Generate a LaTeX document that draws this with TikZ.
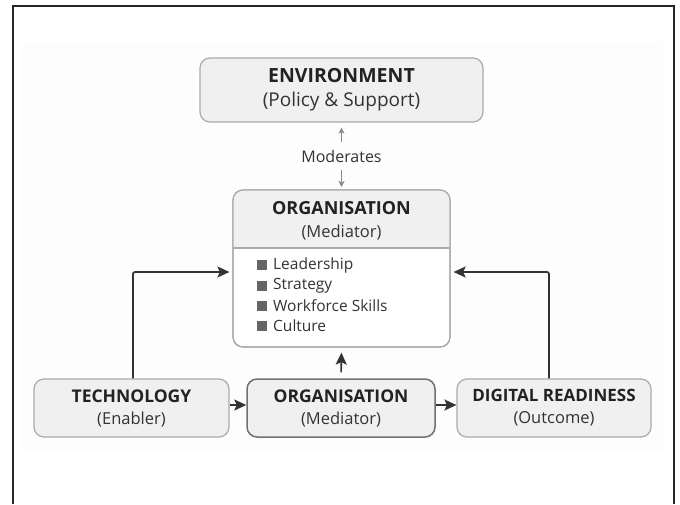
\documentclass[tikz,border=0pt]{standalone}
\usepackage{fontspec}
\setmainfont{Open Sans}
\usetikzlibrary{arrows.meta}
\definecolor{boxfill}{HTML}{F0F0F0}
\definecolor{boxline}{HTML}{ABABAB}
\definecolor{darkline}{HTML}{707070}
\definecolor{inkdark}{HTML}{222222}
\definecolor{inksub}{HTML}{333333}
\definecolor{arrowdark}{HTML}{333333}
\definecolor{arrowgrey}{HTML}{8A8A8A}
\definecolor{bulletgrey}{HTML}{666666}
\definecolor{panel}{HTML}{FDFDFD}
\tikzset{
  card/.style={draw=boxline, line width=1.2pt, fill=boxfill, rounded corners=10pt,
    inner sep=0pt, align=center, text=inkdark},
  linegap/.style={font=\fontsize{16}{#1}\selectfont},
  flowarrow/.style={draw=arrowdark, line width=1.7pt,
    -{Stealth[length=12pt,width=11pt,inset=2.5pt]}},
  softarrow/.style={draw=arrowgrey, line width=1.2pt,
    -{Stealth[length=6pt,width=6pt,inset=1.5pt]}},
  bulletsq/.style={fill=bulletgrey, minimum size=9.5pt, inner sep=0pt},
  item/.style={anchor=west, inner sep=0pt, text=inksub,
    font=\fontsize{15.5}{18}\selectfont},
}
% two-line card text: bold title, bracketed role below
\newcommand{\cardtext}[4]{{\fontsize{#1}{#1}\selectfont\bfseries #2}\\{\fontsize{#3}{#3}\selectfont\color{inksub}#4}}
\begin{document}
\begin{tikzpicture}[x=1pt,y=-1pt]
\useasboundingbox (0,0) rectangle (680,504);
% faint backdrop panel and the frame
\fill[panel] (22,42) rectangle (663,452);
\draw[black!85, line width=1.4pt] (13,504) -- (13,6) -- (674,6) -- (674,504);

% environment
\node[card, linegap=24pt, minimum width=283pt, minimum height=64pt] (env) at (341.5,90)
  {\cardtext{19.5}{ENVIRONMENT}{19}{(Policy \& Support)}};

% moderating link
\node[inner sep=0pt, minimum height=28pt, text=inksub,
  font=\fontsize{16}{18}\selectfont] (mod) at (341.5,156) {Moderates};
\draw[softarrow, shorten >=5pt] (mod.north) -- (env.south);
\draw[softarrow, shorten >=3pt] (mod.south) -- (mod.south |- 0,190);

% organisation detail card
\node[draw=boxline, line width=1.2pt, fill=white, rounded corners=10pt,
  minimum width=217pt, minimum height=157pt, inner sep=0pt] (org) at (341.5,268.5) {};
\begin{scope}
  \clip (230,185) rectangle (455,248);
  \fill[boxfill, rounded corners=10pt] (233,190) rectangle (450,347);
\end{scope}
\draw[draw=boxline, line width=1.2pt, rounded corners=10pt] (233,190) rectangle (450,347);
\draw[boxline, line width=1.2pt] (233,248) -- (450,248);
\node[inner sep=0pt, align=center, text=inkdark, linegap=23pt] (orghead) at (341.5,220.5)
  {\cardtext{18}{ORGANISATION}{16.5}{(Mediator)}};

\node[bulletsq] (b1) at (262,265) {};
\node[item] (i1) at (273,265) {Leadership};
\node[bulletsq] (b2) at (262,286) {};
\node[item] (i2) at (273,286) {Strategy};
\node[bulletsq] (b3) at (262,306) {};
\node[item] (i3) at (273,306) {Workforce Skills};
\node[bulletsq] (b4) at (262,326) {};
\node[item] (i4) at (273,326) {Culture};

% bottom row
\node[card, linegap=22pt, minimum width=195pt, minimum height=58pt] (tech) at (131.5,408)
  {\cardtext{17.5}{TECHNOLOGY}{16.5}{(Enabler)}};
\node[card, linegap=22pt, draw=darkline, line width=1.5pt, minimum width=188pt,
  minimum height=58pt] (org2) at (341,408) {\cardtext{17.5}{ORGANISATION}{16.5}{(Mediator)}};
\node[card, linegap=22pt, minimum width=194pt, minimum height=58pt] (dig) at (554,408)
  {\cardtext{17}{DIGITAL READINESS}{16.5}{(Outcome)}};

% connectors
\draw[flowarrow] ([yshift=3pt]tech.east) -- ([yshift=3pt]org2.west);
\draw[flowarrow] ([yshift=3pt]org2.east) -- ([yshift=3pt]dig.west);
\draw[flowarrow, shorten <=6pt, shorten >=5pt] (org2.north) -- (org.south);
\draw[flowarrow, rounded corners=2pt, shorten >=3pt]
  ([xshift=1.5pt]tech.north) |- ([yshift=-3.5pt]org.west);
\draw[flowarrow, rounded corners=2pt, shorten >=3pt]
  ([xshift=-5pt]dig.north) |- ([yshift=-3.5pt]org.east);
\end{tikzpicture}
\end{document}
